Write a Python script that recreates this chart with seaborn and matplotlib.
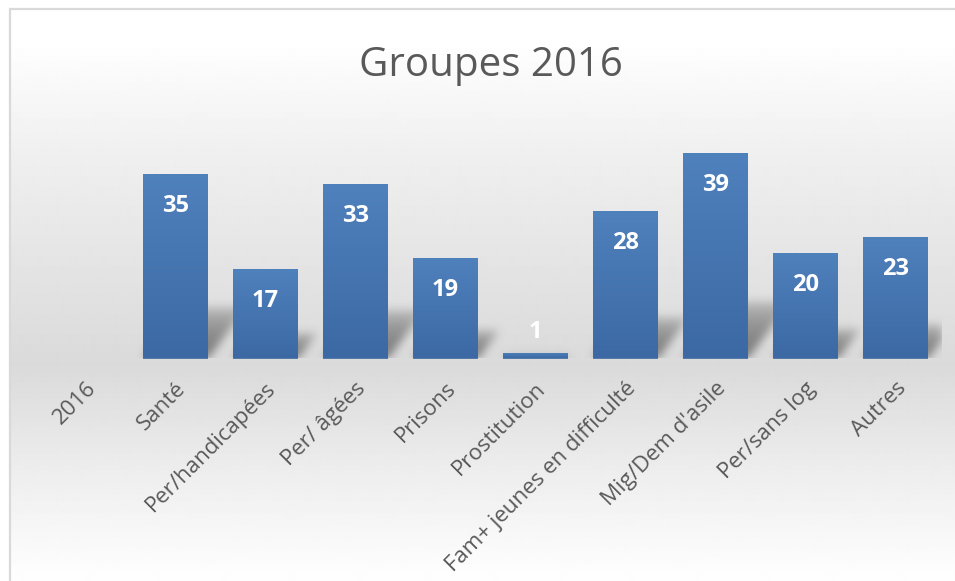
import numpy as np
import pandas as pd
import matplotlib
matplotlib.use('Agg')
import matplotlib.pyplot as plt
import seaborn as sns
from matplotlib.patches import Rectangle
from matplotlib.colors import LinearSegmentedColormap

# Data
categories = ['2016', 'Santé', 'Per/handicapées', 'Per/ âgées', 'Prisons', 'Prostitution',
              'Fam+ jeunes en difficulté', "Mig/Dem d'asile", 'Per/sans log', 'Autres']
counts = [np.nan, 35, 17, 33, 19, 1, 28, 39, 20, 23]
chart_title = 'Groupes 2016'

data = pd.DataFrame({'groupe': categories, 'nombre': counts})

sns.set_theme(style='white')
plt.rcParams['font.family'] = ['Open Sans', 'DejaVu Sans']

W, H = 955, 581
fig = plt.figure(figsize=(W / 100, H / 100), dpi=100)
fig.patch.set_facecolor('white')

# Background gradient inside the chart frame (white -> light grey -> white)
bg = fig.add_axes([10 / W, 0, 1 - 10 / W, (H - 9) / H], zorder=0)
rows = np.arange(9, H)
shade = np.interp(rows, [9, 40, 150, 365, 470, 575], [1.0, 1.0, 0.94, 0.855, 0.93, 0.995])
bg.imshow(np.repeat(shade[:, None], 10, axis=1), cmap='gray', vmin=0, vmax=1,
          aspect='auto', extent=(0, 1, 0, 1), interpolation='bilinear')
bg.set_axis_off()
fig.patches.append(Rectangle((10 / W, -0.01), 1.05, (H - 9) / H + 0.01, transform=fig.transFigure,
                             fill=False, edgecolor='#d9d9d9', linewidth=1.6, zorder=1))

# Plot area
x0, x1 = 40.5, 940.5
ytop, ybase = 121.0, 358.5
ax = fig.add_axes([x0 / W, 1 - ybase / H, (x1 - x0) / W, (ybase - ytop) / H], zorder=2)
ax.patch.set_alpha(0)

sns.barplot(data=data, x='groupe', y='nombre', order=categories, color='#4a7ab5',
            width=0.72, ax=ax)
ax.set_xlim(-0.5, len(categories) - 0.5)
ax.set_ylim(0, 45)

# Soft perspective shadows behind the bars
nx, ny = 900, 238
px_per_unit = (ybase - ytop) / 45
gx = np.linspace(-0.5, len(categories) - 0.5, nx)
gy = np.linspace(0, 45, ny)
X, Y = np.meshgrid(gx, gy)
Ypx = Y * px_per_unit
shadow = np.zeros_like(X)
for i, v in enumerate(counts):
    if np.isnan(v):
        continue
    hs = 0.28 * v * px_per_unit
    shift = 0.75 * Ypx / 90.0
    inside = (Ypx <= hs) & (X >= i - 0.36 + shift) & (X <= i + 0.36 + shift)
    shadow = np.maximum(shadow, np.where(inside, np.clip(1 - Ypx / max(hs, 1), 0, 1) ** 0.4, 0))
k = np.exp(-0.5 * (np.arange(-15, 16) / 4.5) ** 2)
k /= k.sum()
shadow = np.apply_along_axis(lambda r: np.convolve(r, k, mode='same'), 1, shadow)
shadow = np.apply_along_axis(lambda c: np.convolve(c, k, mode='same'), 0, shadow)
rgba = np.zeros((ny, nx, 4))
rgba[..., :3] = 0.45
rgba[..., 3] = np.clip(shadow * 0.95, 0, 1)
ax.imshow(rgba, origin='lower', extent=(-0.5, len(categories) - 0.5, 0, 45),
          aspect='auto', zorder=0.5, interpolation='bilinear')

# Vertical gradient on each bar
bar_cmap = LinearSegmentedColormap.from_list('bar', ['#3c69a3', '#4f81bd'])
grad = np.linspace(0, 1, 100)[:, None]
for p in ax.patches:
    if p.get_height() == 0 or np.isnan(p.get_height()):
        continue
    p.set_edgecolor('none')
    p.set_zorder(1)
    bx, bw, bh = p.get_x(), p.get_width(), p.get_height()
    im = ax.imshow(grad, cmap=bar_cmap, origin='lower', aspect='auto',
                   extent=(bx, bx + bw, 0, bh), zorder=1.5)
    im.set_clip_path(p)

# Value labels (white, bold)
for i, v in enumerate(counts):
    if np.isnan(v):
        continue
    off = -32 if v > 5 else 21
    ax.annotate(f'{v:.0f}', (i, v), xytext=(0, off * 0.72), textcoords='offset points',
                ha='center', va='center', color='white', fontsize=17,
                fontweight='bold', zorder=3)

ax.set_xlabel('')
ax.set_ylabel('')
ax.set_yticks([])
sns.despine(ax=ax, left=True, bottom=True)
ax.tick_params(axis='x', length=0, pad=14, colors='#595959', labelsize=16)
plt.setp(ax.get_xticklabels(), rotation=45, ha='right', rotation_mode='anchor')

fig.text(491 / W, 1 - 76 / H, chart_title, ha='center', va='baseline',
         fontsize=29, color='#595959')

fig.savefig('out.png', dpi=100)
